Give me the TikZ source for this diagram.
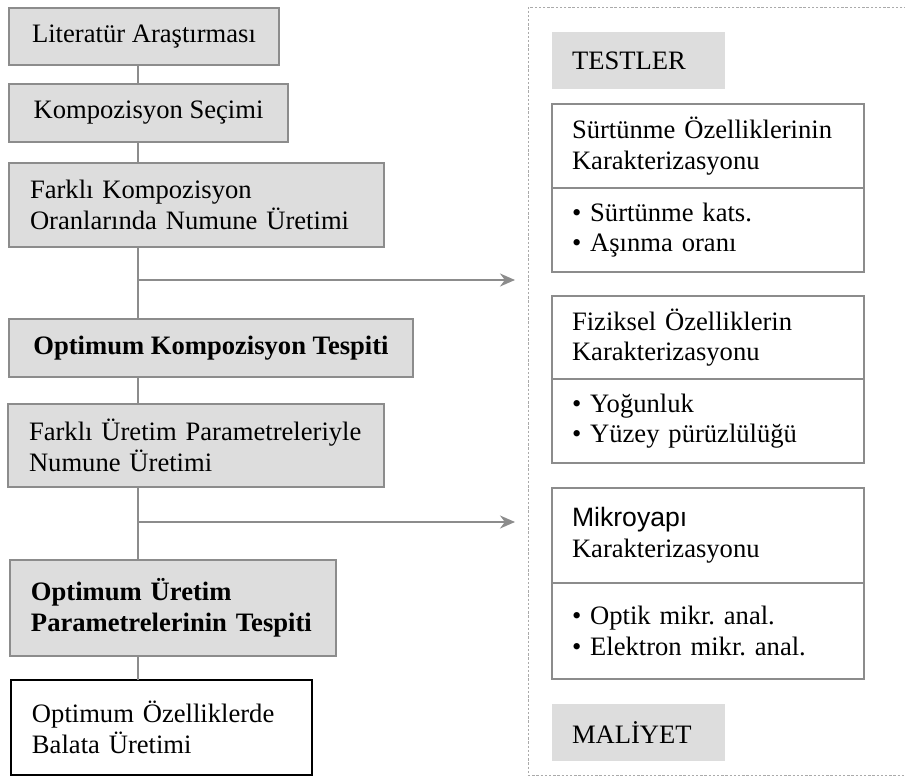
\documentclass[tikz,border=0pt]{standalone}
\usepackage{fontspec}
\setmainfont{Liberation Serif}
\setsansfont{Liberation Sans}
\usetikzlibrary{
  arrows.meta,
  calc
}
\frenchspacing

\definecolor{boxgray}{RGB}{221,221,221}
\definecolor{edgegray}{RGB}{140,140,140}
\definecolor{framegray}{RGB}{170,170,170}

\tikzset{
  base/.style={anchor=north west, align=left, outer sep=0pt, inner xsep=10.5pt,
    font=\fontsize{13.3}{15.3}\selectfont},
  boldtext/.style={font=\fontsize{13.3}{15.3}\selectfont\bfseries},
  stepbox/.style={base, draw=edgegray, line width=1pt, fill=boxgray},
  endbox/.style={base, draw=black, line width=1pt},
  headbox/.style={base, fill=boxgray, inner xsep=10pt, text width=66.5pt, minimum height=28.5pt},
  testbox/.style={base, draw=edgegray, line width=1pt, inner xsep=10pt, text width=136pt},
  frame/.style={anchor=north west, outer sep=0pt, draw=framegray, line width=0.5pt,
    dash pattern=on 1.2pt off 0.9pt},
  conn/.style={draw=edgegray, line width=1pt},
  arr/.style={conn, -{Stealth[length=7.5pt,width=6.5pt]}, shorten >=6.5pt}
}

\begin{document}
\begin{tikzpicture}[x=0.5pt,y=-0.5pt]
  \useasboundingbox (0,0) rectangle (905,776);

  % akis (sol)
  \node[stepbox, minimum width=135pt, minimum height=28.5pt] (lit) at (9,8) {Literatür Araştırması};
  \node[stepbox, minimum width=139.5pt, minimum height=29pt] (secim) at (9,84) {Kompozisyon Seçimi};
  \node[stepbox, text width=166.5pt, minimum height=42pt] (numune) at (9,163)
    {Farklı Kompozisyon\\Oranlarında Numune Üretimi};
  \node[stepbox, boldtext, minimum width=202pt, minimum height=29pt] (optkomp) at (9,319)
    {Optimum Kompozisyon Tespiti};
  \node[stepbox, text width=167pt, minimum height=41.5pt] (parnum) at (8,404)
    {Farklı Üretim Parametreleriyle\\Numune Üretimi};
  \node[stepbox, boldtext, text width=142pt, minimum height=48pt] (optpar) at (10,560)
    {Optimum Üretim\\Parametrelerinin Tespiti};
  \node[endbox, text width=129.5pt, minimum height=47.5pt] (balata) at (11,680)
    {Optimum Özelliklerde\\Balata Üretimi};

  % testler (sag)
  \node[frame, minimum width=193.5pt, minimum height=384pt] (tests) at (528,7) {};
  \node[headbox] (testler) at (552,32) {TESTLER};
  \node[testbox, minimum height=42pt] (surt) at (552,104) {Sürtünme Özelliklerinin\\Karakterizasyonu};
  \node[testbox, minimum height=42pt] (surtlist) at (552,188) {• Sürtünme kats.\\• Aşınma oranı};
  \node[testbox, minimum height=41.5pt] (fiz) at (552,296) {Fiziksel Özelliklerin\\Karakterizasyonu};
  \node[testbox, minimum height=42pt] (fizlist) at (552,379) {• Yoğunluk\\• Yüzey pürüzlülüğü};
  \node[testbox, minimum height=47.5pt] (mikro) at (552,488) {{\sffamily Mikroyapı}\\Karakterizasyonu};
  \node[testbox, minimum height=48pt] (mikrolist) at (552,583) {• Optik mikr. anal.\\• Elektron mikr. anal.};
  \node[headbox] (maliyet) at (552,704) {MALİYET};

  % baglantilar
  \coordinate (spine) at (138,0);
  \coordinate (br1) at (138,280);
  \coordinate (br2) at (138,522);
  \draw[conn] (lit.south -| spine) -- (secim.north -| spine);
  \draw[conn] (secim.south -| spine) -- (numune.north -| spine);
  \draw[conn] (numune.south -| spine) -- (optkomp.north -| spine);
  \draw[conn] (optkomp.south -| spine) -- (parnum.north -| spine);
  \draw[conn] (parnum.south -| spine) -- (optpar.north -| spine);
  \draw[conn] (optpar.south -| spine) -- (balata.north -| spine);
  \draw[arr] (br1) -- (br1 -| tests.west);
  \draw[arr] (br2) -- (br2 -| tests.west);
\end{tikzpicture}
\end{document}
